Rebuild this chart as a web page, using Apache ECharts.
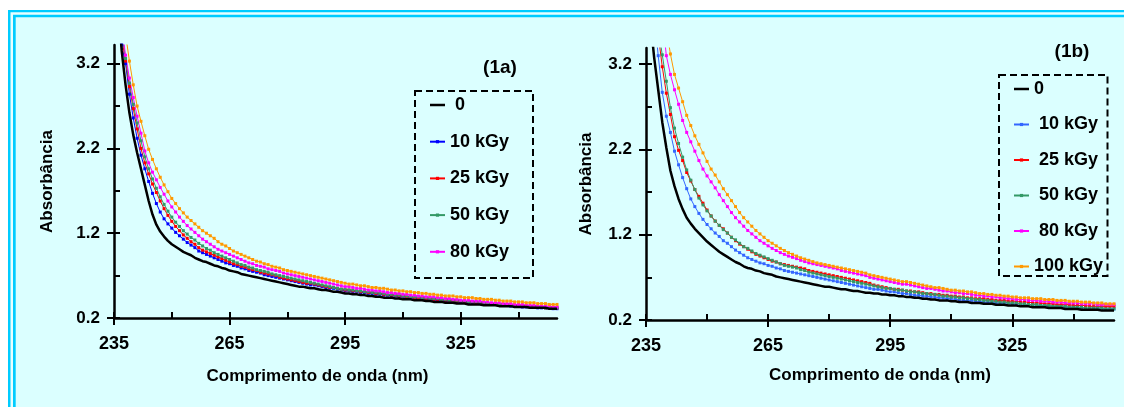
<!DOCTYPE html>
<html>
<head>
<meta charset="utf-8">
<script src="https://cdn.jsdelivr.net/npm/echarts@6/dist/echarts.min.js"></script>
<style>html,body{margin:0;padding:0;background:#fff}#chart{width:1124px;height:407px}</style>
</head>
<body>
<div id="chart"></div>
<script>
// 波长 236..350 nm，每 1 nm 一个采样点
const wavelengths = [];
for (let w = 236; w <= 350; w++) wavelengths.push(w);

const xLabels = [235, 265, 295, 325];
const xTicks = [235, 250, 265, 280, 295, 310, 325, 340];
const yLabels = [0.2, 1.2, 2.2, 3.2];
const yTicks = [0.2, 0.7, 1.2, 1.7, 2.2, 2.7, 3.2];

// (1a)
const namesA = [' 0', '10 kGy', '25 kGy', '50 kGy', '80 kGy', '100 kGy'];
const a0 = [3.95,3.35,2.95,2.62,2.36,2.15,1.96,1.77,1.58,1.42, 1.30,1.22,1.16,1.11,1.07,1.04,1.01,0.98,0.96,0.94,
  0.91,0.89,0.87,0.86,0.84,0.82,0.81,0.79,0.78,0.76, 0.75,0.74,0.72,0.71,0.70,0.69,0.68,0.67,0.66,0.65,
  0.64,0.63,0.62,0.61,0.60,0.59,0.58,0.57,0.57,0.56, 0.55,0.55,0.54,0.53,0.53,0.52,0.51,0.51,0.50,0.49,
  0.49,0.48,0.48,0.47,0.47,0.46,0.46,0.45,0.45,0.44, 0.44,0.44,0.43,0.43,0.42,0.42,0.42,0.41,0.41,0.41,
  0.40,0.40,0.39,0.39,0.39,0.38,0.38,0.38,0.37,0.37, 0.37,0.36,0.36,0.36,0.36,0.35,0.35,0.35,0.35,0.34,
  0.34,0.34,0.34,0.33,0.33,0.33,0.33,0.32,0.32,0.32, 0.32,0.32,0.31,0.31,0.31];
const a10 = [4.00,3.42,3.20,2.84,2.56,2.32,2.12,1.96,1.81,1.67, 1.55,1.45,1.37,1.31,1.26,1.21,1.17,1.13,1.09,1.06,
  1.03,0.99,0.97,0.95,0.93,0.91,0.89,0.87,0.85,0.84, 0.82,0.81,0.79,0.78,0.76,0.75,0.74,0.73,0.71,0.70,
  0.69,0.68,0.67,0.66,0.65,0.64,0.63,0.62,0.61,0.60, 0.59,0.59,0.58,0.57,0.56,0.55,0.55,0.54,0.53,0.52,
  0.52,0.51,0.51,0.50,0.50,0.49,0.49,0.48,0.48,0.47, 0.47,0.46,0.46,0.45,0.45,0.44,0.44,0.43,0.43,0.43,
  0.42,0.42,0.41,0.41,0.41,0.40,0.40,0.40,0.39,0.39, 0.39,0.38,0.38,0.38,0.37,0.37,0.36,0.36,0.36,0.35,
  0.35,0.35,0.34,0.34,0.34,0.33,0.33,0.33,0.33,0.32, 0.32,0.32,0.32,0.31,0.31];
const a25 = [4.20,3.50,3.23,2.93,2.67,2.43,2.20,2.03,1.90,1.78, 1.68,1.58,1.49,1.41,1.34,1.28,1.23,1.18,1.14,1.10,
  1.07,1.03,1.00,0.98,0.96,0.94,0.92,0.90,0.88,0.86, 0.84,0.83,0.81,0.80,0.78,0.77,0.76,0.74,0.73,0.72,
  0.71,0.70,0.68,0.67,0.66,0.65,0.64,0.63,0.62,0.61, 0.61,0.60,0.59,0.58,0.57,0.56,0.56,0.55,0.54,0.53,
  0.53,0.52,0.52,0.51,0.51,0.50,0.50,0.49,0.49,0.48, 0.48,0.47,0.47,0.46,0.46,0.45,0.45,0.44,0.44,0.44,
  0.43,0.43,0.42,0.42,0.42,0.41,0.41,0.40,0.40,0.40, 0.39,0.39,0.39,0.38,0.38,0.37,0.37,0.37,0.36,0.36,
  0.36,0.35,0.35,0.35,0.34,0.34,0.34,0.33,0.33,0.33, 0.33,0.32,0.32,0.32,0.32];
const a50 = [4.20,3.60,3.26,2.97,2.72,2.50,2.29,2.10,1.96,1.84, 1.73,1.63,1.54,1.46,1.39,1.33,1.28,1.23,1.19,1.15,
  1.12,1.08,1.05,1.02,1.00,0.97,0.95,0.93,0.91,0.89, 0.87,0.85,0.83,0.82,0.80,0.79,0.77,0.76,0.75,0.74,
  0.72,0.71,0.70,0.69,0.68,0.67,0.66,0.65,0.64,0.63, 0.62,0.61,0.60,0.59,0.58,0.57,0.56,0.55,0.54,0.54,
  0.53,0.53,0.52,0.52,0.51,0.51,0.50,0.50,0.49,0.49, 0.48,0.48,0.47,0.47,0.46,0.46,0.45,0.45,0.45,0.44,
  0.44,0.43,0.43,0.43,0.42,0.42,0.41,0.41,0.41,0.40, 0.40,0.39,0.39,0.39,0.38,0.38,0.37,0.37,0.37,0.36,
  0.36,0.35,0.35,0.35,0.34,0.34,0.34,0.33,0.33,0.33, 0.33,0.32,0.32,0.32,0.32];
const a80 = [4.30,3.65,3.30,3.03,2.80,2.58,2.38,2.17,2.03,1.92, 1.83,1.74,1.66,1.58,1.51,1.45,1.39,1.34,1.29,1.25,
  1.21,1.17,1.13,1.10,1.07,1.04,1.01,0.99,0.97,0.95, 0.93,0.91,0.89,0.87,0.85,0.84,0.82,0.81,0.80,0.78,
  0.77,0.76,0.75,0.73,0.72,0.71,0.70,0.69,0.68,0.67, 0.66,0.65,0.64,0.63,0.62,0.61,0.60,0.59,0.58,0.57,
  0.57,0.56,0.55,0.55,0.54,0.53,0.53,0.52,0.52,0.51, 0.50,0.50,0.49,0.49,0.48,0.48,0.47,0.47,0.46,0.46,
  0.45,0.45,0.45,0.44,0.44,0.43,0.43,0.42,0.42,0.41, 0.41,0.41,0.40,0.40,0.40,0.39,0.39,0.38,0.38,0.38,
  0.37,0.37,0.37,0.36,0.36,0.36,0.35,0.35,0.35,0.34, 0.34,0.34,0.34,0.33,0.33];
const a100 = [4.60,4.00,3.55,3.23,2.95,2.70,2.52,2.35,2.19,2.07, 1.96,1.86,1.77,1.69,1.61,1.55,1.49,1.44,1.39,1.35,
  1.31,1.27,1.23,1.20,1.17,1.14,1.10,1.07,1.05,1.02, 0.99,0.97,0.95,0.93,0.91,0.89,0.87,0.86,0.84,0.83,
  0.81,0.80,0.79,0.77,0.76,0.75,0.74,0.73,0.72,0.71, 0.70,0.69,0.68,0.67,0.66,0.65,0.64,0.63,0.62,0.61,
  0.60,0.60,0.59,0.58,0.58,0.57,0.56,0.56,0.55,0.55, 0.54,0.53,0.53,0.52,0.52,0.51,0.51,0.50,0.50,0.49,
  0.49,0.48,0.48,0.47,0.47,0.46,0.46,0.46,0.45,0.45, 0.44,0.44,0.44,0.43,0.43,0.42,0.42,0.42,0.41,0.41,
  0.40,0.40,0.40,0.39,0.39,0.39,0.38,0.38,0.38,0.37, 0.37,0.37,0.36,0.36,0.36];

// (1b)
const namesB = ['0', ' 10 kGy', ' 25 kGy', ' 50 kGy', ' 80 kGy', '100 kGy'];
const b0 = [3.75,3.28,2.90,2.52,2.22,1.95,1.77,1.62,1.50,1.40, 1.33,1.27,1.22,1.17,1.12,1.08,1.04,1.00,0.97,0.94,
  0.91,0.88,0.86,0.83,0.81,0.80,0.78,0.77,0.75,0.74, 0.73,0.71,0.70,0.69,0.68,0.67,0.66,0.65,0.64,0.63,
  0.62,0.61,0.60,0.59,0.59,0.58,0.57,0.56,0.56,0.55, 0.54,0.54,0.53,0.52,0.52,0.51,0.51,0.50,0.50,0.49,
  0.49,0.48,0.48,0.47,0.47,0.46,0.46,0.45,0.45,0.44, 0.44,0.43,0.43,0.43,0.42,0.42,0.41,0.41,0.41,0.40,
  0.40,0.40,0.39,0.39,0.39,0.38,0.38,0.38,0.37,0.37, 0.37,0.36,0.36,0.36,0.35,0.35,0.35,0.35,0.34,0.34,
  0.34,0.34,0.33,0.33,0.33,0.33,0.32,0.32,0.32,0.32, 0.32,0.31,0.31,0.31,0.31];
const b10 = [4.50,3.80,3.30,2.87,2.59,2.40,2.18,2.02,1.87,1.74, 1.62,1.53,1.45,1.38,1.32,1.27,1.22,1.18,1.13,1.10,
  1.06,1.02,0.99,0.96,0.93,0.91,0.89,0.87,0.86,0.84, 0.83,0.81,0.80,0.78,0.77,0.76,0.75,0.74,0.73,0.72,
  0.71,0.70,0.69,0.68,0.67,0.66,0.65,0.64,0.63,0.62, 0.61,0.60,0.59,0.58,0.57,0.56,0.56,0.55,0.54,0.53,
  0.53,0.52,0.51,0.51,0.50,0.49,0.49,0.48,0.48,0.47, 0.47,0.46,0.46,0.45,0.45,0.44,0.44,0.43,0.43,0.43,
  0.42,0.42,0.41,0.41,0.41,0.40,0.40,0.40,0.40,0.39, 0.39,0.39,0.38,0.38,0.38,0.37,0.37,0.37,0.36,0.36,
  0.36,0.36,0.35,0.35,0.35,0.35,0.34,0.34,0.34,0.34, 0.34,0.33,0.33,0.33,0.33];
const b25 = [4.80,4.10,3.55,3.17,2.86,2.61,2.35,2.19,2.07,1.93, 1.83,1.73,1.65,1.57,1.49,1.42,1.36,1.31,1.27,1.22,
  1.17,1.13,1.09,1.06,1.03,1.00,0.97,0.95,0.93,0.91, 0.89,0.88,0.86,0.85,0.84,0.83,0.82,0.81,0.80,0.78,
  0.77,0.76,0.75,0.74,0.73,0.72,0.71,0.70,0.69,0.68, 0.67,0.66,0.65,0.64,0.63,0.61,0.60,0.59,0.58,0.57,
  0.56,0.56,0.55,0.54,0.54,0.53,0.53,0.52,0.51,0.51, 0.50,0.50,0.49,0.49,0.48,0.48,0.47,0.47,0.46,0.46,
  0.45,0.45,0.45,0.44,0.44,0.43,0.43,0.43,0.42,0.42, 0.42,0.41,0.41,0.41,0.40,0.40,0.40,0.39,0.39,0.39,
  0.38,0.38,0.38,0.38,0.37,0.37,0.37,0.37,0.36,0.36, 0.36,0.36,0.36,0.36,0.36];
const b50 = [5.00,4.20,3.62,3.31,3.00,2.69,2.45,2.27,2.11,1.96, 1.84,1.73,1.63,1.55,1.48,1.42,1.36,1.31,1.26,1.22,
  1.17,1.14,1.10,1.06,1.04,1.01,0.98,0.96,0.94,0.92, 0.90,0.88,0.86,0.84,0.83,0.82,0.81,0.79,0.78,0.76,
  0.75,0.74,0.73,0.72,0.71,0.70,0.69,0.68,0.67,0.66, 0.65,0.64,0.63,0.62,0.61,0.60,0.59,0.58,0.57,0.57,
  0.56,0.55,0.55,0.54,0.53,0.53,0.52,0.51,0.51,0.50, 0.50,0.49,0.48,0.48,0.47,0.47,0.46,0.46,0.45,0.45,
  0.44,0.44,0.43,0.43,0.42,0.42,0.41,0.41,0.40,0.40, 0.40,0.39,0.39,0.38,0.38,0.38,0.37,0.37,0.37,0.36,
  0.36,0.36,0.36,0.35,0.35,0.35,0.35,0.34,0.34,0.34, 0.34,0.34,0.33,0.33,0.33];
const b80 = [6.00,5.00,4.30,3.75,3.30,3.08,2.90,2.73,2.54,2.40, 2.29,2.18,2.07,1.97,1.89,1.82,1.75,1.67,1.60,1.53,
  1.46,1.40,1.35,1.30,1.25,1.21,1.17,1.13,1.10,1.07, 1.04,1.015,0.99,0.97,0.95,0.935,0.92,0.90,0.885,0.87,
  0.86,0.85,0.84,0.83,0.82,0.81,0.80,0.78,0.77,0.76, 0.75,0.74,0.73,0.72,0.70,0.69,0.68,0.67,0.66,0.65,
  0.64,0.63,0.62,0.62,0.61,0.60,0.59,0.58,0.57,0.57, 0.56,0.55,0.54,0.54,0.53,0.52,0.52,0.51,0.51,0.50,
  0.49,0.49,0.48,0.48,0.47,0.47,0.46,0.46,0.45,0.45, 0.44,0.44,0.44,0.43,0.43,0.43,0.42,0.42,0.42,0.41,
  0.41,0.41,0.40,0.40,0.40,0.40,0.39,0.39,0.39,0.39, 0.38,0.38,0.38,0.38,0.38];
const b100 = [6.50,5.50,4.70,4.10,3.62,3.32,3.08,2.92,2.76,2.60, 2.48,2.36,2.26,2.16,2.06,1.97,1.90,1.82,1.74,1.67,
  1.60,1.53,1.46,1.40,1.35,1.30,1.25,1.21,1.17,1.13, 1.10,1.07,1.04,1.015,0.99,0.97,0.95,0.93,0.915,0.90,
  0.885,0.87,0.86,0.85,0.84,0.83,0.82,0.81,0.80,0.79, 0.78,0.77,0.76,0.75,0.73,0.72,0.71,0.70,0.69,0.68,
  0.67,0.66,0.65,0.65,0.64,0.63,0.62,0.61,0.60,0.59, 0.58,0.58,0.57,0.56,0.55,0.55,0.54,0.54,0.53,0.53,
  0.52,0.51,0.51,0.50,0.50,0.49,0.49,0.48,0.48,0.47, 0.47,0.46,0.46,0.46,0.45,0.45,0.45,0.44,0.44,0.44,
  0.43,0.43,0.43,0.42,0.42,0.42,0.41,0.41,0.41,0.40, 0.40,0.40,0.39,0.39,0.39];

const colorsA = ['#000000', '#0000ff', '#ff0000', '#339966', '#ff00ff', '#ff9900'];
const colorsB = ['#000000', '#3366ff', '#ff0000', '#339966', '#ff00ff', '#ff9900'];

const FONT = '"Liberation Sans", Arial, sans-serif';
const BG = '#dbffff';

const chart = echarts.init(document.getElementById('chart'));

// 一条曲线：0 kGy 为粗黑线，其余为带小方块标记的细线
function curve(name, vals, color, gi) {
  const isRef = name.trim() === '0';
  return {
    type: 'line',
    name: name,
    xAxisIndex: gi,
    yAxisIndex: gi,
    data: wavelengths.map((w, i) => [w, vals[i]]),
    symbol: isRef ? 'none' : 'rect',
    symbolSize: 3,
    showAllSymbol: true,
    color: color,
    lineStyle: { color: color, width: isRef ? 2.5 : 1 },
    itemStyle: { color: color },
    z: isRef ? 3 : 2,
    clip: true
  };
}

const lineAxis = { color: '#000', width: 2.5 };
const tickLine = { color: '#000', width: 2 };
const txt = { color: '#000', fontWeight: 'bold', fontFamily: FONT };

function mainX(gi, nameGap, namePad) {
  return {
    type: 'value', gridIndex: gi, position: 'bottom', min: 235, max: 350, interval: 15,
    axisLine: { onZero: false, lineStyle: lineAxis },
    axisTick: { inside: true, length: 6, lineStyle: tickLine, customValues: xTicks },
    axisLabel: Object.assign({ fontSize: 18, margin: 17, customValues: xLabels }, txt),
    splitLine: { show: false },
    name: 'Comprimento de onda (nm)', nameLocation: 'middle', nameGap: nameGap,
    nameTextStyle: Object.assign({ fontSize: 17, padding: namePad }, txt)
  };
}
function overX(gi) {
  return {
    type: 'value', gridIndex: gi, position: 'bottom', min: 235, max: 350, interval: 15,
    axisLine: { show: false, onZero: false },
    axisTick: { inside: false, length: 7, lineStyle: tickLine, customValues: xLabels },
    axisLabel: { show: false }, splitLine: { show: false }
  };
}
function mainY(gi, max, nameGap) {
  return {
    type: 'value', gridIndex: gi, position: 'left', min: 0.2, max: max, interval: 0.5,
    axisLine: { onZero: false, lineStyle: lineAxis },
    axisTick: { inside: true, length: 6, lineStyle: tickLine, customValues: yTicks },
    axisLabel: Object.assign({ fontSize: 17, margin: 14, customValues: yLabels,
      formatter: v => v.toFixed(1) }, txt),
    splitLine: { show: false },
    name: 'Absorbância', nameLocation: 'middle', nameGap: nameGap,
    nameTextStyle: Object.assign({ fontSize: 17 }, txt)
  };
}
function overY(gi, max) {
  return {
    type: 'value', gridIndex: gi, position: 'left', min: 0.2, max: max, interval: 0.5,
    axisLine: { show: false, onZero: false },
    axisTick: { inside: false, length: 7, lineStyle: tickLine, customValues: yLabels },
    axisLabel: { show: false }, splitLine: { show: false }
  };
}

// 0 kGy 图例只画一段粗黑线
function legend(names, left, top, gap) {
  return {
    orient: 'vertical', left: left, top: top, itemWidth: 15, itemHeight: 4, itemGap: gap,
    selectedMode: false,
    data: names.map(n => n.trim() === '0' ? { name: n, icon: 'path://M0,0H30V5H0Z' } : n),
    textStyle: Object.assign({ fontSize: 18, lineHeight: 16 }, txt)
  };
}

const valsA = [a0, a10, a25, a50, a80, a100];
const valsB = [b0, b10, b25, b50, b80, b100];

const option = {
  animation: false,
  backgroundColor: '#ffffff',
  grid: [
    { left: 114, top: 45, width: 443, height: 273 },
    { left: 646, top: 48, width: 468, height: 272 }
  ],
  xAxis: [mainX(0, 50, [0, 36, 0, 0]), mainX(1, 47, 0), overX(0), overX(1)],
  yAxis: [mainY(0, 3.42, 58), mainY(1, 3.39, 51), overY(0, 3.42), overY(1, 3.39)],
  legend: [
    legend(namesA.slice(0, 5), 424, 91, 18.7),
    legend(namesB, 1008, 75, 17.5)
  ],
  series: [
    ...valsA.map((v, i) => curve(namesA[i], v, colorsA[i], 0)),
    ...valsB.map((v, i) => curve(namesB[i], v, colorsB[i], 1))
  ],
  graphic: [
    // 左上两道青色边框
    { type: 'rect', silent: true, z: -10, shape: { x: 8, y: 10, width: 1116, height: 397 }, style: { fill: '#00ccff' } },
    { type: 'rect', silent: true, z: -9, shape: { x: 10.5, y: 12.3, width: 1114, height: 395 }, style: { fill: '#e8ffff' } },
    { type: 'rect', silent: true, z: -8, shape: { x: 13, y: 14.7, width: 1111, height: 393 }, style: { fill: '#00ccff' } },
    { type: 'rect', silent: true, z: -7, shape: { x: 15.7, y: 17.3, width: 1109, height: 390 }, style: { fill: BG } },
    // 图例虚线框
    { type: 'rect', silent: true, z: 50, shape: { x: 415, y: 91, width: 118, height: 187 },
      style: { fill: null, stroke: '#000', lineWidth: 2, lineDash: [7, 4] } },
    { type: 'rect', silent: true, z: 50, shape: { x: 999, y: 75, width: 108.5, height: 201 },
      style: { fill: null, stroke: '#000', lineWidth: 2, lineDash: [7, 4] } },
    { type: 'text', silent: true, z: 50, x: 500, y: 68,
      style: { text: '(1a)', fill: '#000', font: 'bold 19px ' + FONT, textAlign: 'center', textVerticalAlign: 'middle' } },
    { type: 'text', silent: true, z: 50, x: 1072, y: 52,
      style: { text: '(1b)', fill: '#000', font: 'bold 19px ' + FONT, textAlign: 'center', textVerticalAlign: 'middle' } }
  ]
};

chart.setOption(option);
</script>
</body>
</html>
